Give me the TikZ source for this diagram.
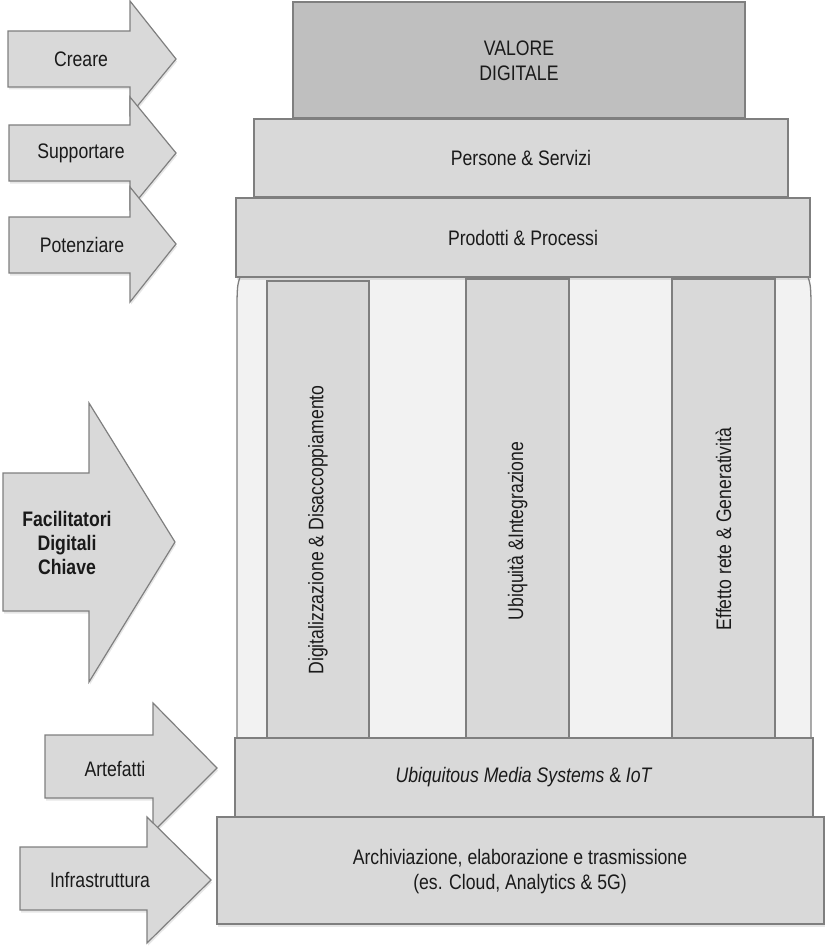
\documentclass[tikz,border=0pt]{standalone}
\usepackage{fontspec}
\setmainfont{Liberation Sans}[FakeStretch=0.84]
\usetikzlibrary{shadows}
\definecolor{boxfill}{HTML}{D9D9D9}
\definecolor{topfill}{HTML}{BFBFBF}
\definecolor{framefill}{HTML}{F2F2F2}
\definecolor{edgegray}{HTML}{7F7F7F}
\definecolor{txt}{HTML}{1A1A1A}
\begin{document}
\begin{tikzpicture}[x=1pt,y=-1pt,
  blk/.style={draw=edgegray, line width=1.3pt, fill=boxfill,
    drop shadow={opacity=0.2, shadow xshift=1pt, shadow yshift=-2.5pt}},
  arr/.style={draw=edgegray, line width=1.2pt, fill=boxfill, line join=miter,
    drop shadow={opacity=0.2, shadow xshift=1pt, shadow yshift=-2.5pt}},
  pil/.style={draw=edgegray, line width=1.3pt, fill=boxfill},
  lbl/.style={text=txt, font=\fontsize{21}{25}\selectfont, align=center, inner sep=0pt}]
\useasboundingbox (0,0) rectangle (826,947);

% ---- left arrows ----
\path[arr] (8,31) -- (130,31) -- (130,1) -- (176,59) -- (130,115) -- (130,87) -- (8,87) -- cycle;
\node[lbl] (creare) at (81,59) {Creare};
\path[arr] (9,125) -- (130,125) -- (130,97) -- (176,153) -- (130,209) -- (130,181) -- (9,181) -- cycle;
\node[lbl] (supportare) at (81,153) {Supportare};
\path[arr] (9,217) -- (130,217) -- (130,187) -- (176,244) -- (130,302) -- (130,273) -- (9,273) -- cycle;
\node[lbl] (potenziare) at (82,245) {Potenziare};
\path[arr] (3,473) -- (89,473) -- (89,403) -- (175,542) -- (89,682) -- (89,611) -- (3,611) -- cycle;
\node[lbl, font=\fontsize{21}{24}\selectfont\bfseries] (facil) at (67,543) {Facilitatori\\Digitali\\Chiave};
\path[arr] (45,735) -- (153,735) -- (153,703) -- (217,768) -- (153,832) -- (153,798) -- (45,798) -- cycle;
\node[lbl] (artefatti) at (115,769) {Artefatti};
\path[arr] (20,847) -- (147,847) -- (147,817) -- (211,880) -- (147,943) -- (147,910) -- (20,910) -- cycle;
\node[lbl] (infra) at (100,880) {Infrastruttura};

% ---- pillar frame ----
\path[draw=edgegray, line width=1.3pt, fill=framefill]
  (240,277) .. controls (237.5,285) .. (237,300) -- (237,738) -- (811,738)
  -- (811,300) .. controls (810.5,285) .. (808,277) -- cycle;
\path[pil] (267,281) rectangle (369,738);
\path[pil] (466,279) rectangle (569,738);
\path[pil] (672,279) rectangle (775,738);
\node[lbl, rotate=90] (p1) at (318,530) {Digitalizzazione \& Disaccoppiamento};
\node[lbl, rotate=90] (p2) at (517.5,531) {Ubiquità \&Integrazione};
\node[lbl, rotate=90] (p3) at (723.5,529) {Effetto rete \& Generatività};

% ---- stacked boxes ----
\path[blk, fill=topfill] (293,2) rectangle (745,118);
\node[lbl] (valore) at (519,61) {VALORE\\DIGITALE};
\path[blk] (254,119) rectangle (788,197);
\node[lbl] (persone) at (521,158) {Persone \& Servizi};
\path[blk] (236,198) rectangle (810,277);
\node[lbl] (prodotti) at (523,238) {Prodotti \& Processi};
\path[blk] (235,738) rectangle (813,817);
\node[lbl] (ubiq) at (524,777) {\textit{Ubiquitous Media Systems} \& \textit{IoT}};
\path[blk] (217,817) rectangle (824,924);
\node[lbl] (archiv) at (520,872) {Archiviazione, elaborazione e trasmissione\\(es. Cloud, Analytics \& 5G)};
\end{tikzpicture}
\end{document}
